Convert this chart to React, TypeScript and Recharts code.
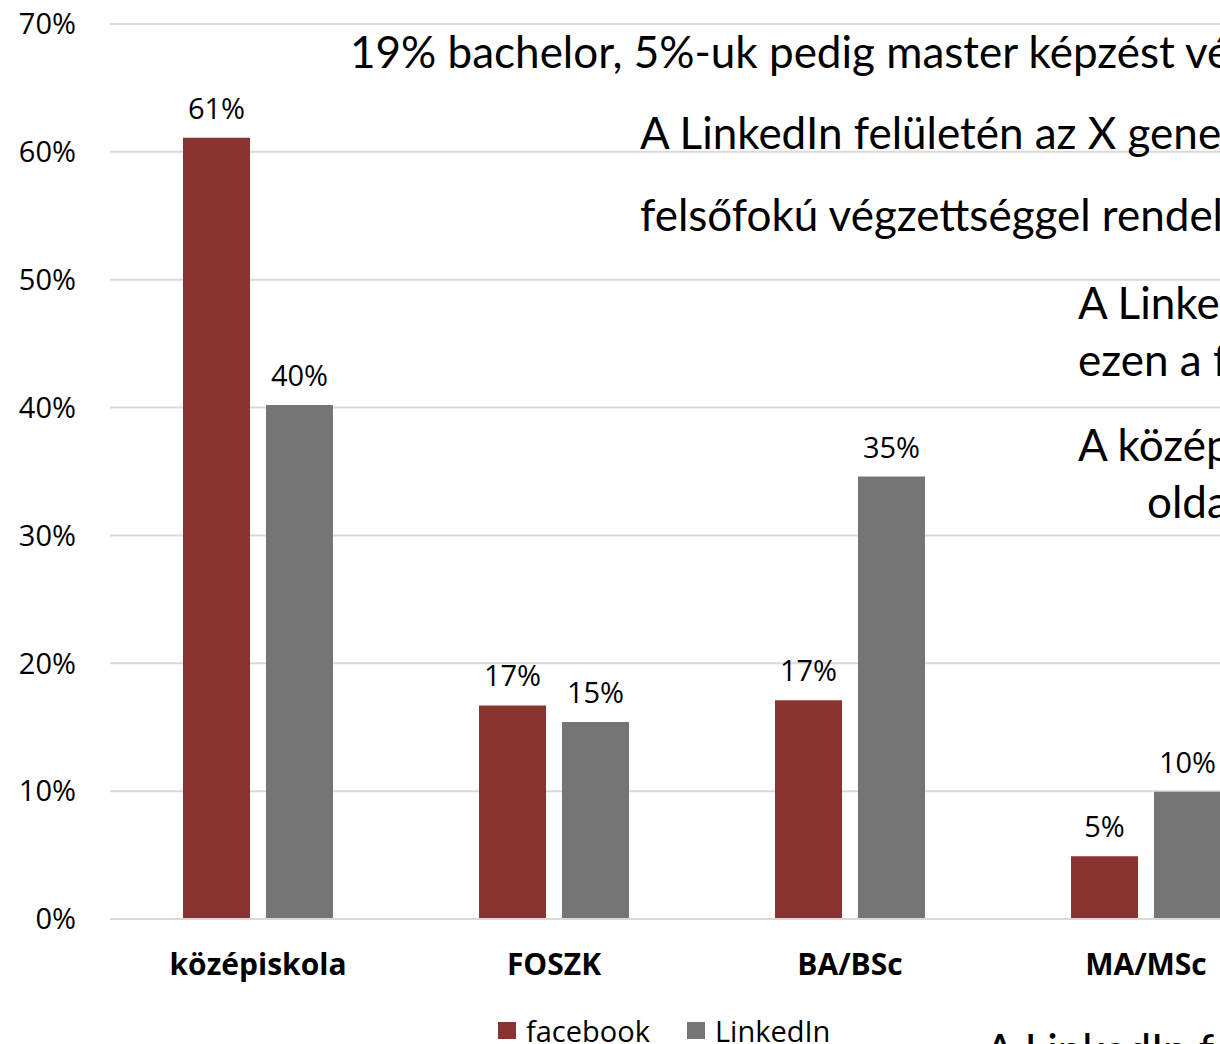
import { BarChart, Bar, XAxis, YAxis, CartesianGrid, Legend, LabelList } from 'recharts';

const categories = ['középiskola', 'FOSZK', 'BA/BSc', 'MA/MSc'];
const facebook = [61.1, 16.7, 17.1, 4.9];
const linkedin = [40.2, 15.4, 34.6, 9.95];
const yTicks = [0, 10, 20, 30, 40, 50, 60, 70];

const seriesInfo = [
  { key: 'facebook', label: 'facebook', color: '#8a3432' },
  { key: 'linkedin', label: 'LinkedIn', color: '#757575' },
];

// slide text boxes lying over the chart (cut off at the right edge)
const overlayLines = [
  { text: '19% bachelor, 5%-uk pedig master képzést végzett.', x: 350, y: 52 },
  { text: 'A LinkedIn felületén az X generáció', x: 640, y: 133 },
  { text: 'felsőfokú végzettséggel rendelkezik', x: 640, y: 215 },
  { text: 'A LinkedIn felhasználók', x: 1078, y: 303 },
  { text: 'ezen a felületen', x: 1078, y: 360 },
  { text: 'A középiskolások', x: 1078, y: 445 },
  { text: 'oldalon', x: 1147, y: 502 },
  { text: 'A LinkedIn felhasználói', x: 985, y: 1050 },
];

const data = categories.map((name, i) => ({ name, facebook: facebook[i], linkedin: linkedin[i] }));

const FONT = '"Open Sans", "Noto Sans", sans-serif';

const renderLegend = () => (
  <div style={{ display: 'flex', alignItems: 'center', marginLeft: 498, height: 36, fontFamily: FONT, fontSize: 29, color: '#000' }}>
    {seriesInfo.map((s, i) => (
      <div key={s.key} style={{ display: 'flex', alignItems: 'center', marginRight: i === 0 ? 37 : 0 }}>
        <span style={{ width: 18, height: 17, background: s.color, display: 'inline-block', marginRight: 10 }} />
        <span>{s.label}</span>
      </div>
    ))}
  </div>
);

export default function App() {
  return (
    <div style={{ position: 'fixed', left: 0, top: 0, width: 1220, height: 1044, overflow: 'hidden', background: '#fff' }}>
      <BarChart width={1330} height={1080} data={data} margin={{ top: 24, right: 36, left: 0, bottom: 65 }} barGap={16} barSize={67}>
        <CartesianGrid vertical={false} stroke="#d9d9d9" strokeWidth={2} />
        <XAxis dataKey="name" tickLine={false} tickSize={0} tickMargin={35} height={60}
          axisLine={{ stroke: '#d9d9d9', strokeWidth: 2 }}
          tick={{ fontSize: 30, fontWeight: 700, fill: '#000', fontFamily: FONT }} />
        <YAxis type="number" domain={[0, 70]} ticks={yTicks} width={110} axisLine={false} tickLine={false}
          tickSize={0} tickMargin={34} tickFormatter={(v) => `${v}%`}
          tick={{ fontSize: 29, fill: '#000', fontFamily: FONT }} />
        <Legend content={renderLegend} wrapperStyle={{ top: 1012, left: 0, width: 1330, height: 36 }} />
        {seriesInfo.map((s) => (
          <Bar key={s.key} dataKey={s.key} name={s.label} fill={s.color} isAnimationActive={false}>
            <LabelList dataKey={s.key} position="top" offset={19}
              formatter={(v: any) => `${Math.round(Number(v))}%`}
              style={{ fontSize: 29, fill: '#000', fontFamily: FONT }} />
          </Bar>
        ))}
      </BarChart>
      {overlayLines.map((l, i) => (
        <div key={i} style={{ position: 'absolute', left: l.x, top: l.y - 24, whiteSpace: 'nowrap', fontFamily: 'Lato, sans-serif', fontSize: 44, lineHeight: '46px', color: '#000' }}>
          {l.text}
        </div>
      ))}
    </div>
  );
}
